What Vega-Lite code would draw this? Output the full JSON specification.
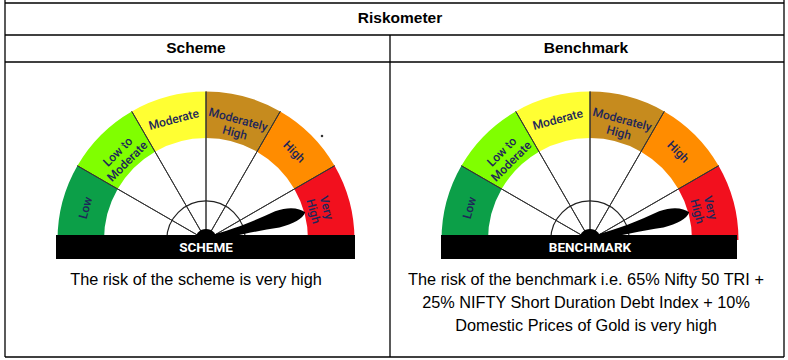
{
  "$schema": "https://vega.github.io/schema/vega-lite/v6.json",
  "width": 788,
  "height": 360,
  "autosize": "none",
  "padding": 0,
  "background": "white",
  "config": {"view": {"stroke": null}},
  "datasets": {
    "lines": [
      {"x": 5, "y": 3, "x2": 784, "y2": 3},
      {"x": 5, "y": 35, "x2": 784, "y2": 35},
      {"x": 5, "y": 62, "x2": 784, "y2": 62},
      {"x": 5, "y": 357, "x2": 784, "y2": 357},
      {"x": 5, "y": 0, "x2": 5, "y2": 357},
      {"x": 784, "y": 0, "x2": 784, "y2": 357},
      {"x": 390, "y": 35, "x2": 390, "y2": 357}
    ],
    "headers": [
      {"x": 400, "y": 18, "t": "Riskometer"},
      {"x": 196, "y": 48, "t": "Scheme"},
      {"x": 586, "y": 48, "t": "Benchmark"}
    ],
    "notes": [
      {"x": 196, "y": 280, "t": "The risk of the scheme is very high"},
      {"x": 586, "y": 280, "t": "The risk of the benchmark i.e. 65% Nifty 50 TRI +"},
      {"x": 586, "y": 303, "t": "25% NIFTY Short Duration Debt Index + 10%"},
      {"x": 586, "y": 326, "t": "Domestic Prices of Gold is very high"}
    ],
    "bands": [
      {"cx": 206, "cy": 240, "band": "Low", "a0": -90, "a1": -60, "mid": -75, "label": ["Low"]},
      {"cx": 206, "cy": 240, "band": "Low to Moderate", "a0": -60, "a1": -30, "mid": -45, "label": ["Low to", "Moderate"]},
      {"cx": 206, "cy": 240, "band": "Moderate", "a0": -30, "a1": 0, "mid": -15, "label": ["Moderate"]},
      {"cx": 206, "cy": 240, "band": "Moderately High", "a0": 0, "a1": 30, "mid": 15, "label": ["Moderately", "High"]},
      {"cx": 206, "cy": 240, "band": "High", "a0": 30, "a1": 60, "mid": 45, "label": ["High"]},
      {"cx": 206, "cy": 240, "band": "Very High", "a0": 60, "a1": 90, "mid": 75, "label": ["Very", "High"]},
      {"cx": 590, "cy": 240, "band": "Low", "a0": -90, "a1": -60, "mid": -75, "label": ["Low"]},
      {"cx": 590, "cy": 240, "band": "Low to Moderate", "a0": -60, "a1": -30, "mid": -45, "label": ["Low to", "Moderate"]},
      {"cx": 590, "cy": 240, "band": "Moderate", "a0": -30, "a1": 0, "mid": -15, "label": ["Moderate"]},
      {"cx": 590, "cy": 240, "band": "Moderately High", "a0": 0, "a1": 30, "mid": 15, "label": ["Moderately", "High"]},
      {"cx": 590, "cy": 240, "band": "High", "a0": 30, "a1": 60, "mid": 45, "label": ["High"]},
      {"cx": 590, "cy": 240, "band": "Very High", "a0": 60, "a1": 90, "mid": 75, "label": ["Very", "High"]}
    ],
    "spokes": [
      {"cx": 206, "cy": 240, "a": -60},
      {"cx": 206, "cy": 240, "a": -30},
      {"cx": 206, "cy": 240, "a": 0},
      {"cx": 206, "cy": 240, "a": 30},
      {"cx": 206, "cy": 240, "a": 60},
      {"cx": 590, "cy": 240, "a": -60},
      {"cx": 590, "cy": 240, "a": -30},
      {"cx": 590, "cy": 240, "a": 0},
      {"cx": 590, "cy": 240, "a": 30},
      {"cx": 590, "cy": 240, "a": 60}
    ],
    "gauges": [
      {"cx": 206, "cy": 240, "name": "SCHEME", "bx0": 56, "bx1": 355, "by0": 235, "by1": 259, "pointer": 75},
      {"cx": 590, "cy": 240, "name": "BENCHMARK", "bx0": 441, "bx1": 737, "by0": 235, "by1": 259, "pointer": 75}
    ],
    "specks": [
      {"x": 322, "y": 136}
    ]
  },
  "layer": [
    {
      "data": {"name": "lines"},
      "mark": {"type": "rule", "color": "#000000", "strokeWidth": 1.3},
      "encoding": {
        "x": {"field": "x", "type": "quantitative", "axis": null, "scale": {"domain": [0, 788], "range": [0, 788], "nice": false, "zero": false}},
        "y": {"field": "y", "type": "quantitative", "axis": null, "scale": {"domain": [0, 360], "range": [0, 360], "nice": false, "zero": false}},
        "x2": {"field": "x2"},
        "y2": {"field": "y2"}
      }
    },
    {
      "data": {"name": "headers"},
      "mark": {"type": "text", "font": "Liberation Sans", "fontSize": 15.5, "fontWeight": "bold", "color": "#000000", "baseline": "middle", "align": "center"},
      "encoding": {
        "x": {"field": "x", "type": "quantitative"},
        "y": {"field": "y", "type": "quantitative"},
        "text": {"field": "t"}
      }
    },
    {
      "data": {"name": "notes"},
      "mark": {"type": "text", "font": "Liberation Sans", "fontSize": 16.3, "color": "#000000", "baseline": "middle", "align": "center"},
      "encoding": {
        "x": {"field": "x", "type": "quantitative"},
        "y": {"field": "y", "type": "quantitative"},
        "text": {"field": "t"}
      }
    },
    {
      "data": {"name": "bands"},
      "mark": {"type": "arc", "stroke": null, "padAngle": 0},
      "encoding": {
        "x": {"field": "cx", "type": "quantitative"},
        "y": {"field": "cy", "type": "quantitative"},
        "theta": {"field": "a0", "type": "quantitative", "stack": null, "scale": {"type": "linear", "domain": [-90, 90], "range": [-1.5707963, 1.5707963], "zero": false, "nice": false}},
        "theta2": {"field": "a1"},
        "radius": {"datum": 1, "type": "quantitative", "scale": {"type": "linear", "domain": [0, 1], "range": [0, 148.5], "zero": true, "nice": false}},
        "radius2": {"datum": 0.687},
        "color": {"field": "band", "type": "nominal", "legend": null, "scale": {"domain": ["Low", "Low to Moderate", "Moderate", "Moderately High", "High", "Very High"], "range": ["#0c9f48", "#80ff00", "#ffff33", "#c68b1e", "#ff8c00", "#f2101e"]}}
      }
    },
    {
      "data": {"name": "spokes"},
      "mark": {"type": "arc", "filled": false, "fill": null, "stroke": "#333333", "strokeWidth": 1},
      "encoding": {
        "x": {"field": "cx", "type": "quantitative"},
        "y": {"field": "cy", "type": "quantitative"},
        "theta": {"field": "a", "type": "quantitative", "stack": null},
        "theta2": {"field": "a"},
        "radius": {"datum": 1, "type": "quantitative"},
        "radius2": {"datum": 0}
      }
    },
    {
      "data": {"name": "gauges"},
      "mark": {"type": "arc", "filled": false, "fill": null, "stroke": "#222222", "strokeWidth": 1.2},
      "encoding": {
        "x": {"field": "cx", "type": "quantitative"},
        "y": {"field": "cy", "type": "quantitative"},
        "theta": {"datum": -90, "type": "quantitative", "stack": null},
        "theta2": {"datum": 90},
        "radius": {"datum": 0.265, "type": "quantitative"},
        "radius2": {"datum": 0}
      }
    },
    {
      "data": {"name": "bands"},
      "mark": {"type": "text", "font": "Roboto", "fontSize": 12, "fontWeight": 500, "color": "#1e2659", "align": "center", "baseline": "middle", "lineHeight": 13.5},
      "encoding": {
        "x": {"field": "cx", "type": "quantitative"},
        "y": {"field": "cy", "type": "quantitative"},
        "theta": {"field": "mid", "type": "quantitative", "stack": null},
        "radius": {"datum": 0.84, "type": "quantitative"},
        "angle": {"field": "mid", "type": "quantitative", "scale": {"domain": [-90, 90], "range": [-90, 90]}},
        "text": {"field": "label"}
      }
    },
    {
      "data": {"name": "gauges"},
      "mark": {"type": "point", "filled": true, "opacity": 1, "color": "#000000", "strokeWidth": 0, "size": 42436, "shape": "M0,-0.035 C0.3,-0.025 0.5,-0.06 0.72,-0.095 C0.86,-0.11 0.96,-0.065 1,-0.01 C0.96,0.045 0.86,0.07 0.72,0.068 C0.5,0.045 0.3,0.025 0,0.035 Z"},
      "encoding": {
        "x": {"field": "cx", "type": "quantitative"},
        "y": {"field": "cy", "type": "quantitative"},
        "angle": {"field": "pointer", "type": "quantitative", "scale": {"domain": [-90, 90], "range": [-180, 0]}}
      }
    },
    {
      "data": {"name": "gauges"},
      "mark": {"type": "point", "filled": true, "opacity": 1, "color": "#000000", "shape": "circle", "size": 484},
      "encoding": {
        "x": {"field": "cx", "type": "quantitative"},
        "y": {"field": "cy", "type": "quantitative"}
      }
    },
    {
      "data": {"name": "gauges"},
      "mark": {"type": "rect", "color": "#000000"},
      "encoding": {
        "x": {"field": "bx0", "type": "quantitative"},
        "x2": {"field": "bx1"},
        "y": {"field": "by0", "type": "quantitative"},
        "y2": {"field": "by1"}
      }
    },
    {
      "data": {"name": "gauges"},
      "mark": {"type": "text", "font": "Roboto", "fontSize": 13.5, "fontWeight": "bold", "color": "#ffffff", "align": "center", "baseline": "middle", "dy": 7.5},
      "encoding": {
        "x": {"field": "cx", "type": "quantitative"},
        "y": {"field": "cy", "type": "quantitative"},
        "text": {"field": "name"}
      }
    },
    {
      "data": {"name": "specks"},
      "mark": {"type": "point", "filled": true, "opacity": 1, "color": "#333333", "shape": "square", "size": 5},
      "encoding": {
        "x": {"field": "x", "type": "quantitative"},
        "y": {"field": "y", "type": "quantitative"}
      }
    }
  ],
  "resolve": {"scale": {"angle": "independent"}}
}
